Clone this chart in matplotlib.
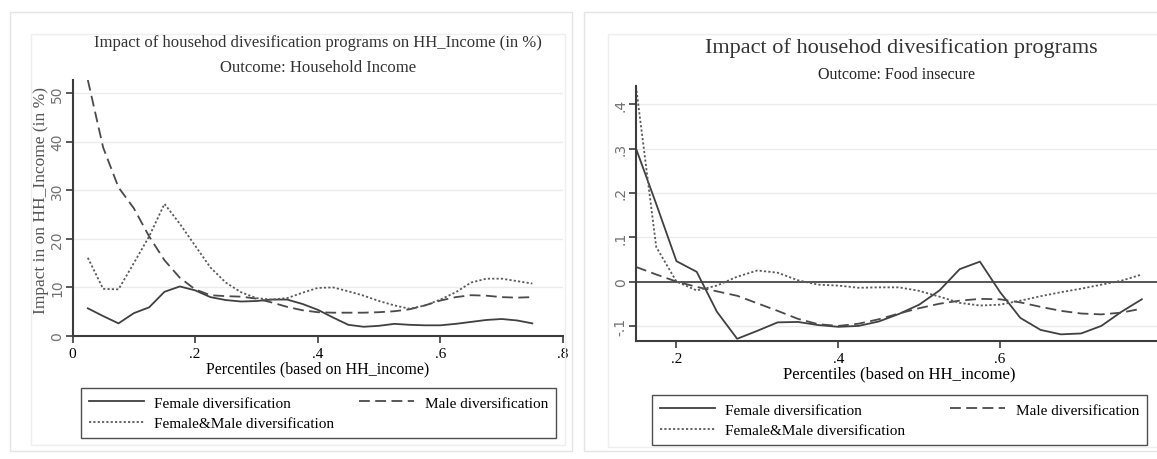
import matplotlib
matplotlib.use("Agg")
import matplotlib.pyplot as plt
from matplotlib.patches import Rectangle

# ---- data ----
pct_income = [0.025, 0.05, 0.075, 0.1, 0.125, 0.15, 0.175, 0.2, 0.225, 0.25,
              0.275, 0.3, 0.325, 0.35, 0.375, 0.4, 0.425, 0.45, 0.475, 0.5,
              0.525, 0.55, 0.575, 0.6, 0.625, 0.65, 0.675, 0.7, 0.725, 0.75]
inc_female = [5.7, 4.1, 2.6, 4.7, 5.9, 9.1, 10.2, 9.4, 8.0, 7.4,
              7.1, 7.2, 7.5, 7.5, 6.6, 5.4, 3.8, 2.3, 1.9, 2.1,
              2.5, 2.3, 2.2, 2.2, 2.5, 2.9, 3.3, 3.5, 3.2, 2.6]
inc_male = [52.7, 38.8, 30.6, 26.3, 20.5, 15.6, 12.0, 9.6, 8.4, 8.2,
            8.1, 7.7, 6.9, 6.0, 5.3, 4.9, 4.8, 4.8, 4.8, 4.9,
            5.1, 5.5, 6.3, 7.3, 8.0, 8.4, 8.3, 8.0, 7.9, 8.0]
inc_both = [16.1, 9.7, 9.6, 15.0, 20.5, 27.2, 23.1, 18.6, 14.1, 11.0,
            9.0, 7.8, 7.5, 7.8, 8.9, 9.9, 10.0, 9.2, 8.3, 7.2,
            6.3, 5.6, 6.3, 7.5, 9.0, 11.0, 11.8, 11.8, 11.3, 10.8]

pct_food = [0.15, 0.175, 0.2, 0.225, 0.25, 0.275, 0.3, 0.325, 0.35, 0.375,
            0.4, 0.425, 0.45, 0.475, 0.5, 0.525, 0.55, 0.575, 0.6, 0.625,
            0.65, 0.675, 0.7, 0.725, 0.75, 0.775]
food_female = [0.30, 0.175, 0.046, 0.022, -0.068, -0.129, -0.111, -0.092, -0.091, -0.098,
               -0.102, -0.100, -0.090, -0.073, -0.052, -0.020, 0.028, 0.045, -0.024, -0.082,
               -0.109, -0.119, -0.117, -0.100, -0.068, -0.040]
food_male = [0.033, 0.016, 0.0, -0.012, -0.022, -0.032, -0.049, -0.066, -0.084, -0.096,
             -0.100, -0.095, -0.085, -0.072, -0.060, -0.050, -0.043, -0.039, -0.040, -0.047,
             -0.057, -0.066, -0.072, -0.074, -0.070, -0.061]
food_both = [0.44, 0.078, 0.0, -0.020, -0.009, 0.011, 0.025, 0.020, 0.003, -0.007,
             -0.009, -0.014, -0.013, -0.013, -0.021, -0.034, -0.048, -0.054, -0.052, -0.043,
             -0.033, -0.024, -0.016, -0.007, 0.002, 0.016]

inc_yticks = [0, 10, 20, 30, 40, 50]
inc_xticks = [0, 0.2, 0.4, 0.6, 0.8]
inc_xlabels = ["0", ".2", ".4", ".6", ".8"]
food_yticks = [-0.1, 0, 0.1, 0.2, 0.3, 0.4]
food_ylabels = ["-.1", "0", ".1", ".2", ".3", ".4"]
food_xticks = [0.2, 0.4, 0.6, 0.8]
food_xlabels = [".2", ".4", ".6", ".8"]

series_names = ["Female diversification", "Male diversification",
                "Female&Male diversification"]

W, H = 1157, 460
SERIF = "Liberation Serif"
DARK = "#3c3c3c"

fig = plt.figure(figsize=(W / 100, H / 100), dpi=100)
fig.patch.set_facecolor("white")


def box(x0, y0, x1, y1):
    # pixel box (y from top) -> figure fraction [left, bottom, width, height]
    return [x0 / W, 1 - y1 / H, (x1 - x0) / W, (y1 - y0) / H]


def ftext(x, y, s, **kw):
    fig.text(x / W, 1 - y / H, s, ha="center", va="center", **kw)


# screenshot borders
for x0, y0, x1, y1, col in [(10, 13, 572, 452, "#e4e4e4"), (584, 13, 1160, 452, "#e4e4e4"),
                            (31, 35, 565, 446, "#efefef"), (608, 35, 1160, 448, "#efefef")]:
    fig.add_artist(Rectangle((x0 / W, 1 - y1 / H), (x1 - x0) / W, (y1 - y0) / H,
                             transform=fig.transFigure, fill=False, edgecolor=col, lw=1))

styles = [dict(ls="-", lw=1.3, color="#404040"),
          dict(ls=(0, (6, 3)), lw=1.3, color="#4a4a4a"),
          dict(ls=(0, (1.2, 1.2)), lw=1.3, color="#5a5a5a")]


def style_axes(ax):
    for s in ["top", "right"]:
        ax.spines[s].set_visible(False)
    for s in ["left", "bottom"]:
        ax.spines[s].set_color(DARK)
        ax.spines[s].set_linewidth(1.5)
    ax.tick_params(axis="both", length=5, width=1.2, color=DARK)
    ax.tick_params(axis="y", labelrotation=90, labelcolor="#707070", labelsize=10, pad=1)
    ax.tick_params(axis="x", labelsize=11, pad=3)
    for lab in ax.get_yticklabels():
        lab.set_va("center")
    for lab in ax.get_xticklabels():
        lab.set_fontfamily(SERIF)
    ax.yaxis.grid(True, color="#ebebeb", lw=1)
    ax.set_axisbelow(True)
    ax.set_facecolor("white")


def add_legend(ax, lines, bbox):
    handles = [lines[0], lines[2], lines[1]]
    labels = [series_names[0], series_names[2], series_names[1]]
    leg = ax.legend(handles, labels, ncol=2, mode="expand", loc="lower left",
                    bbox_to_anchor=bbox, bbox_transform=fig.transFigure,
                    prop={"family": SERIF, "size": 11}, frameon=True, fancybox=False,
                    edgecolor="#222222", handlelength=3.6, handletextpad=0.7,
                    borderpad=0.5, labelspacing=0.45, borderaxespad=0)
    leg.get_frame().set_linewidth(1.0)


# ---- left panel: household income ----
ax1 = fig.add_axes(box(72.5, 81, 563, 337))
l1 = [ax1.plot(pct_income, y, **st)[0]
      for y, st in zip([inc_female, inc_male, inc_both], styles)]
ax1.set_xlim(0, 0.8)
ax1.set_ylim(0, 52.7)
ax1.set_yticks(inc_yticks)
ax1.set_xticks(inc_xticks, inc_xlabels)
style_axes(ax1)
ax1.yaxis.get_gridlines()[0].set_visible(False)
ax1.set_xlabel("Percentiles (based on HH_income)", family=SERIF, fontsize=11.5, labelpad=0)
ax1.set_ylabel("Impact in on HH_Income (in %)", family=SERIF, fontsize=12.5,
               color="#555555", va="center")
ax1.yaxis.set_label_coords(-0.064, 0.535)
add_legend(ax1, l1, box(81, 388, 556, 439))

ftext(318, 43, "Impact of househod divesification programs on HH_Income (in %)",
      family=SERIF, fontsize=12, color="#333333")
ftext(318, 68, "Outcome: Household Income", family=SERIF, fontsize=12, color="#333333")

# ---- right panel: food insecurity ----
ax2 = fig.add_axes(box(636, 87, 1162, 342))
ax2.axhline(0, color="#555555", lw=1.4)
l2 = [ax2.plot(pct_food, y, **st)[0]
      for y, st in zip([food_female, food_male, food_both], styles)]
ax2.set_xlim(0.15, 0.8)
ax2.set_ylim(-0.134, 0.441)
ax2.set_yticks(food_yticks, food_ylabels)
ax2.set_xticks(food_xticks, food_xlabels)
style_axes(ax2)
ax2.set_xlabel("Percentiles (based on HH_income)", family=SERIF, fontsize=12, labelpad=0)
add_legend(ax2, l2, box(652, 393, 1147, 446))

ftext(901, 48, "Impact of househod divesification programs",
      family=SERIF, fontsize=16, color="#333333")
ftext(897, 75, "Outcome: Food insecure", family=SERIF, fontsize=11.5, color="#222222")

fig.savefig("out.png", dpi=100)
